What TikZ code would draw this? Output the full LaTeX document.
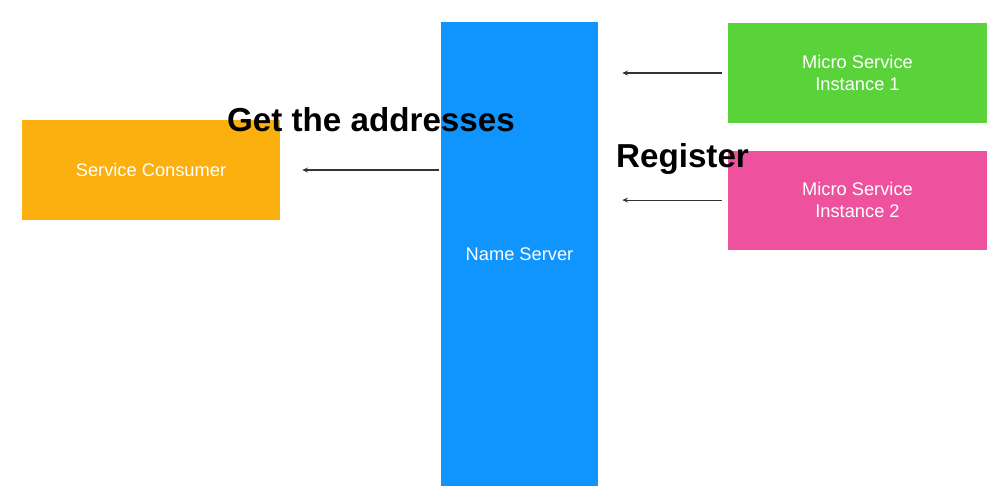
\documentclass[tikz,border=0pt]{standalone}
\usepackage{fontspec}
\setmainfont{Liberation Sans}
\usepackage{xcolor}
\usetikzlibrary{positioning,arrows.meta}

\definecolor{consumerorange}{HTML}{FCB010}
\definecolor{serverblue}{HTML}{1094FD}
\definecolor{instgreen}{HTML}{5AD33B}
\definecolor{instpink}{HTML}{EE529F}

\begin{document}
\begin{tikzpicture}[>={Stealth[length=4pt,width=3.5pt]},
  box/.style={draw=none,text=white,align=center,inner sep=0pt,
    font=\fontsize{13}{15.6}\selectfont},
  bigtext/.style={anchor=base,inner sep=0pt,font=\fontsize{23.6}{28}\selectfont\bfseries},
  arr/.style={->,line width=0.8pt,black!80}]

\useasboundingbox (0,0) rectangle (25.1,-12.4);

% --- Boxes ---
\node[box,fill=consumerorange,minimum width=6.45cm,minimum height=2.5cm]
  (consumer) at (3.775,-4.25) {Service Consumer};
\node[box,fill=serverblue,minimum width=3.925cm,minimum height=11.6cm]
  (server) at (12.9875,-6.35) {Name Server};
\node[box,fill=instgreen,minimum width=6.475cm,minimum height=2.5cm]
  (inst1) at (21.4375,-1.825) {Micro Service\\Instance 1};
\node[box,fill=instpink,minimum width=6.475cm,minimum height=2.475cm,
  below=0.675cm of inst1] (inst2) {Micro Service\\Instance 2};

% --- Arrows ---
\draw[arr] ([xshift=-0.05cm]server.west |- consumer.east) -- ([xshift=0.55cm]consumer.east);
\draw[arr] ([xshift=-0.15cm]inst1.west) -- ([xshift=0.6cm]server.east |- inst1.west);
\draw[arr] ([xshift=-0.15cm]inst2.west) -- ([xshift=0.6cm]server.east |- inst2.west);

% --- Labels ---
\node[bigtext] (getaddr) at (9.275,-3.275) {Get the addresses};
\node[bigtext] (register) at (17.0625,-4.175) {Register};

\end{tikzpicture}
\end{document}
